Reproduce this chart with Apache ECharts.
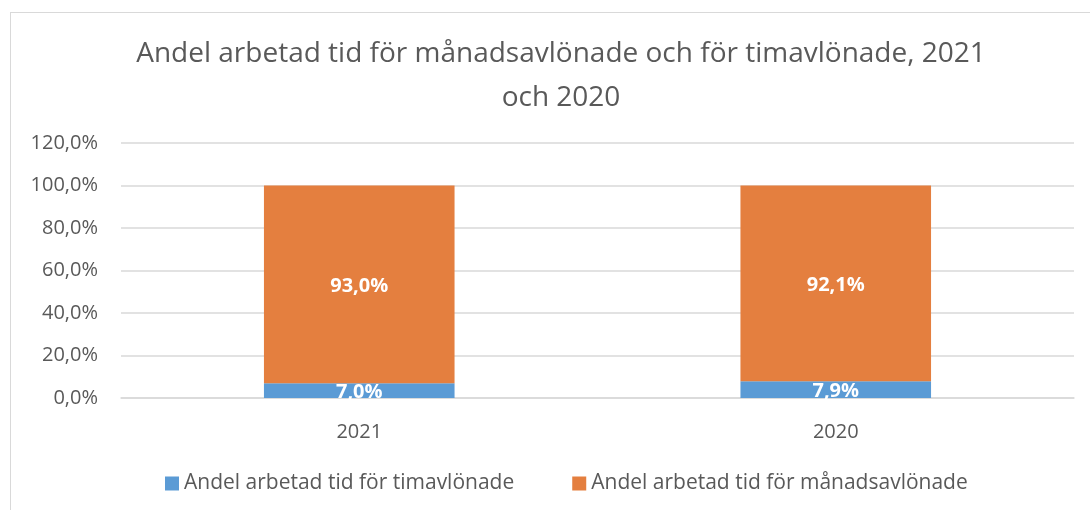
<!DOCTYPE html>
<html lang="sv">
<head>
  <meta charset="UTF-8">
  <title>Andel arbetad tid</title>
  <style>
    body {
      margin: 0;
      background: #fff;
    }

    #frame {
      position: absolute;
      left: 10px;
      top: 12px;
      width: 1100px;
      height: 520px;
      border: 1px solid #d9d9d9;
    }

    #main {
      position: absolute;
      left: 0;
      top: 0;
      width: 1090px;
      height: 510px;
    }
  </style>
</head>
<body>
<div id="frame"></div>
<div id="main"></div>
<script src="https://cdn.jsdelivr.net/npm/echarts@6/dist/echarts.min.js"></script>
<script>
  // år och andelar (procent)
  const years = ['2021', '2020'];
  const timavlonade = [7.0, 7.9];
  const manadsavlonade = [93.0, 92.1];
  const yTicks = [0, 20, 40, 60, 80, 100, 120];

  const fontFamily = '"Open Sans", "Noto Sans", sans-serif';
  const fmt = v => v.toFixed(1).replace('.', ',') + '%';

  let chart = echarts.init(document.getElementById('main'));

  const barLabel = {
    show: true,
    position: 'inside',
    color: '#fff',
    fontWeight: 'bold',
    fontSize: 20,
    fontFamily: fontFamily,
    offset: [0, 2],
    formatter: p => fmt(p.value)
  };

  let option = {
    animation: false,
    title: {
      text: 'Andel arbetad tid för månadsavlönade och för timavlönade, 2021\noch 2020',
      left: 556,
      textAlign: 'center',
      top: 27,
      textStyle: {
        color: '#595959',
        fontSize: 28,
        fontWeight: 'normal',
        fontFamily: fontFamily,
        lineHeight: 44
      }
    },
    legend: {
      top: 468,
      left: 160,
      itemWidth: 14,
      itemHeight: 14,
      itemGap: 58,
      icon: 'rect',
      textStyle: {
        color: '#595959',
        fontSize: 21,
        fontFamily: fontFamily
      }
    },
    grid: {
      left: 121,
      right: 16,
      top: 143,
      bottom: 112,
      containLabel: false
    },
    xAxis: {
      type: 'category',
      data: years,
      axisLine: { lineStyle: { color: '#d9d9d9', width: 1.5 } },
      axisTick: { show: false },
      axisLabel: {
        color: '#595959',
        fontSize: 20,
        fontFamily: fontFamily,
        margin: 24
      }
    },
    yAxis: {
      type: 'value',
      min: yTicks[0],
      max: yTicks[yTicks.length - 1],
      interval: 20,
      axisLine: { show: false },
      axisTick: { show: false },
      splitLine: { lineStyle: { color: '#d9d9d9', width: 1.5 } },
      axisLabel: {
        color: '#595959',
        fontSize: 20,
        fontFamily: fontFamily,
        margin: 23,
        formatter: v => fmt(v)
      }
    },
    series: [
      {
        name: 'Andel arbetad tid för timavlönade',
        type: 'bar',
        stack: 'total',
        barWidth: '40%',
        data: timavlonade,
        itemStyle: { color: '#5b9bd5' },
        label: barLabel
      },
      {
        name: 'Andel arbetad tid för månadsavlönade',
        type: 'bar',
        stack: 'total',
        barWidth: '40%',
        data: manadsavlonade,
        itemStyle: { color: '#e47f3f' },
        label: barLabel
      }
    ]
  };

  chart.setOption(option);
</script>
</body>
</html>
